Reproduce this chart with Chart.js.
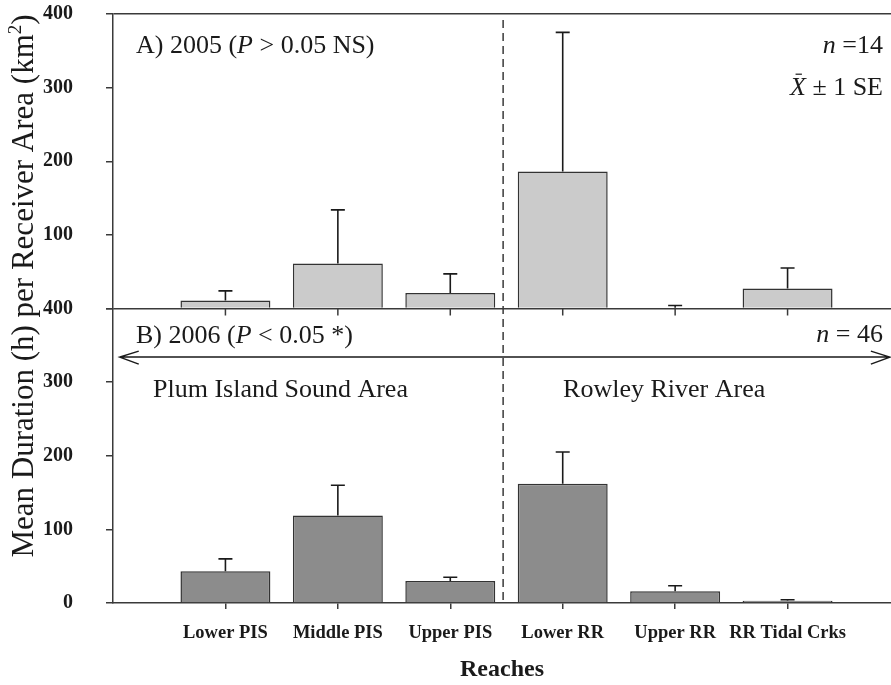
<!DOCTYPE html>
<html>
<head>
<meta charset="utf-8">
<title>Mean duration per receiver area</title>
<script src="https://cdn.jsdelivr.net/npm/chart.js@4/dist/chart.umd.min.js"></script>
<style>
    html, body { margin: 0; padding: 0; background: #fff; }
    canvas { display: block; }
</style>
</head>
<body>
<canvas id="chart" width="891" height="685"></canvas>
<script>
// Reaches along the estuary
const reaches = ['Lower PIS', 'Middle PIS', 'Upper PIS', 'Lower RR', 'Upper RR', 'RR Tidal Crks'];

// A) 2005: means and +1 SE
const mean2005 = [11, 61, 21, 186, 1, 27];
const se2005 = [13, 73, 26, 189, 3, 28];

// B) 2006: means and +1 SE
const mean2006 = [43, 119, 30, 162, 16, 3];
const se2006 = [17, 41, 5, 43, 7.5, 1.5];

const yTicks = [0, 100, 200, 300, 400];

const SERIF = '"Liberation Serif", "DejaVu Serif", serif';
const INK = '#1a1a1a';
const LINE = '#3a3a3a';

// draw text made of styled runs (italic / superscript / overbar)
function drawRuns(ctx, runs, x, y, size, align) {
    const fontOf = r => (r.italic ? 'italic ' : '') + (r.sup ? Math.round(size * 0.62) : size) + 'px ' + SERIF;
    let total = 0;
    runs.forEach(r => { ctx.font = fontOf(r); total += ctx.measureText(r.t).width; });
    let cx = x;
    if (align === 'right') cx = x - total;
    if (align === 'center') cx = x - total / 2;
    runs.forEach(r => {
        ctx.font = fontOf(r);
        const w = ctx.measureText(r.t).width;
        ctx.fillText(r.t, cx, r.sup ? y - size * 0.4 : y);
        if (r.bar) {
            ctx.beginPath();
            ctx.moveTo(cx + w * 0.35, y - size * 0.8);
            ctx.lineTo(cx + w * 0.75, y - size * 0.8);
            ctx.stroke();
        }
        cx += w;
    });
}

const errorBars = {
    id: 'errorBars',
    afterDatasetsDraw(chart) {
        const ctx = chart.ctx;
        ctx.save();
        ctx.strokeStyle = INK;
        ctx.lineWidth = 1.6;
        chart.data.datasets.forEach((ds, d) => {
            const yScale = chart.scales[ds.yAxisID];
            chart.getDatasetMeta(d).data.forEach((bar, i) => {
                const top = yScale.getPixelForValue(ds.data[i].y + ds.se[i]);
                ctx.beginPath();
                ctx.moveTo(bar.x, bar.y);
                ctx.lineTo(bar.x, top);
                ctx.moveTo(bar.x - 7, top);
                ctx.lineTo(bar.x + 7, top);
                ctx.stroke();
            });
        });
        ctx.restore();
    }
};

const annotations = {
    id: 'annotations',
    afterDraw(chart) {
        const {ctx, chartArea} = chart;
        const x = chart.scales.x, yA = chart.scales.yA, yB = chart.scales.yB;
        ctx.save();
        ctx.strokeStyle = LINE;
        ctx.fillStyle = INK;
        ctx.lineWidth = 1.5;

        // tick marks under the top panel
        const base = yA.getPixelForValue(0);
        reaches.forEach((r, i) => {
            const px = x.getPixelForValue(i + 1);
            ctx.beginPath();
            ctx.moveTo(px, base);
            ctx.lineTo(px, base + 7);
            ctx.stroke();
        });

        // dashed divider between the two areas
        const dx = x.getPixelForValue(3.47);
        ctx.setLineDash([8, 5]);
        ctx.beginPath();
        ctx.moveTo(dx, yA.getPixelForValue(392));
        ctx.lineTo(dx, yB.getPixelForValue(0));
        ctx.stroke();
        ctx.setLineDash([]);

        // double arrow across panel B
        const ay = yB.getPixelForValue(334);
        const ax1 = x.getPixelForValue(0.06), ax2 = x.getPixelForValue(6.91);
        ctx.strokeStyle = INK;
        ctx.beginPath();
        ctx.moveTo(ax1, ay); ctx.lineTo(ax2, ay);
        ctx.moveTo(ax1 + 19, ay - 6); ctx.lineTo(ax1, ay); ctx.lineTo(ax1 + 19, ay + 7);
        ctx.moveTo(ax2 - 19, ay - 6); ctx.lineTo(ax2, ay); ctx.lineTo(ax2 - 19, ay + 7);
        ctx.stroke();

        // panel labels
        const left = chartArea.left + 23, right = chartArea.right - 8;
        ctx.textBaseline = 'alphabetic';
        ctx.lineWidth = 1.2;
        drawRuns(ctx, [{t: 'A) 2005 ('}, {t: 'P', italic: true}, {t: ' > 0.05 NS)'}], left, 53, 26, 'left');
        drawRuns(ctx, [{t: 'n', italic: true}, {t: ' =14'}], right, 53, 26, 'right');
        drawRuns(ctx, [{t: 'X', italic: true, bar: true}, {t: ' ± 1 SE'}], right, 95, 26, 'right');
        drawRuns(ctx, [{t: 'B) 2006 ('}, {t: 'P', italic: true}, {t: ' < 0.05 *)'}], left, 343, 26, 'left');
        drawRuns(ctx, [{t: 'n', italic: true}, {t: ' = 46'}], right, 342, 26, 'right');
        drawRuns(ctx, [{t: 'Plum Island Sound Area'}], chartArea.left + 40, 397, 26, 'left');
        drawRuns(ctx, [{t: 'Rowley River Area'}], dx + 60, 397, 26, 'left');

        // shared y axis title
        ctx.translate(33, 286);
        ctx.rotate(-Math.PI / 2);
        drawRuns(ctx, [{t: 'Mean Duration (h) per Receiver Area (km'}, {t: '2', sup: true}, {t: ')'}], 0, 0, 31, 'center');
        ctx.restore();
    }
};

function panelAxis(hideZero) {
    return {
        type: 'linear',
        position: 'left',
        stack: 'panels',
        stackWeight: 1,
        min: 0,
        max: 400,
        afterBuildTicks: axis => { axis.ticks = yTicks.map(v => ({value: v})); },
        afterFit: axis => {
            axis.width = 113;
            axis.paddingTop = 0;
            axis.paddingBottom = 0;
        },
        ticks: {
            color: INK,
            padding: 33,
            font: {family: SERIF, size: 20, weight: 'bold'},
            callback: v => (hideZero && v === 0) ? '' : v
        },
        grid: {
            color: ctx => (hideZero && (ctx.tick.value === 0 || ctx.tick.value === 400)) ? LINE : 'rgba(0,0,0,0)',
            tickColor: LINE,
            tickLength: 7,
            lineWidth: 1.5
        },
        border: {color: LINE, width: 1.5}
    };
}

new Chart(document.getElementById('chart'), {
    type: 'bar',
    data: {
        datasets: [
            {
                label: '2005',
                data: reaches.map((r, i) => ({x: i + 1, y: mean2005[i]})),
                se: se2005,
                yAxisID: 'yA',
                backgroundColor: '#cbcbcb',
                borderColor: '#333',
                borderWidth: 1.5,
                grouped: false,
                barPercentage: 0.8,
                categoryPercentage: 1
            },
            {
                label: '2006',
                data: reaches.map((r, i) => ({x: i + 1, y: mean2006[i]})),
                se: se2006,
                yAxisID: 'yB',
                backgroundColor: '#8c8c8c',
                borderColor: '#333',
                borderWidth: 1.5,
                grouped: false,
                barPercentage: 0.8,
                categoryPercentage: 1
            }
        ]
    },
    options: {
        responsive: false,
        animation: false,
        devicePixelRatio: 1,
        layout: {padding: {top: 14, right: 0, left: 0, bottom: 0}},
        plugins: {
            legend: {display: false},
            tooltip: {enabled: false}
        },
        scales: {
            x: {
                type: 'linear',
                position: 'bottom',
                offset: false,
                min: 0,
                max: 6.92,
                afterBuildTicks: axis => { axis.ticks = reaches.map((r, i) => ({value: i + 1})); },
                afterFit: axis => {
                    axis.height = 82;
                    axis.paddingLeft = 0;
                    axis.paddingRight = 0;
                },
                ticks: {
                    color: INK,
                    padding: 13,
                    maxRotation: 0,
                    autoSkip: false,
                    font: {family: SERIF, size: 18.5, weight: 'bold'},
                    callback: v => reaches[v - 1]
                },
                grid: {offset: false, drawOnChartArea: false, tickColor: LINE, tickLength: 6, lineWidth: 1.5},
                border: {color: LINE, width: 1.5},
                title: {
                    display: true,
                    text: 'Reaches',
                    color: INK,
                    font: {family: SERIF, size: 24, weight: 'bold'},
                    padding: {top: 0, bottom: 1}
                }
            },
            yB: panelAxis(false),
            yA: panelAxis(true)
        }
    },
    plugins: [errorBars, annotations]
});
</script>
</body>
</html>
